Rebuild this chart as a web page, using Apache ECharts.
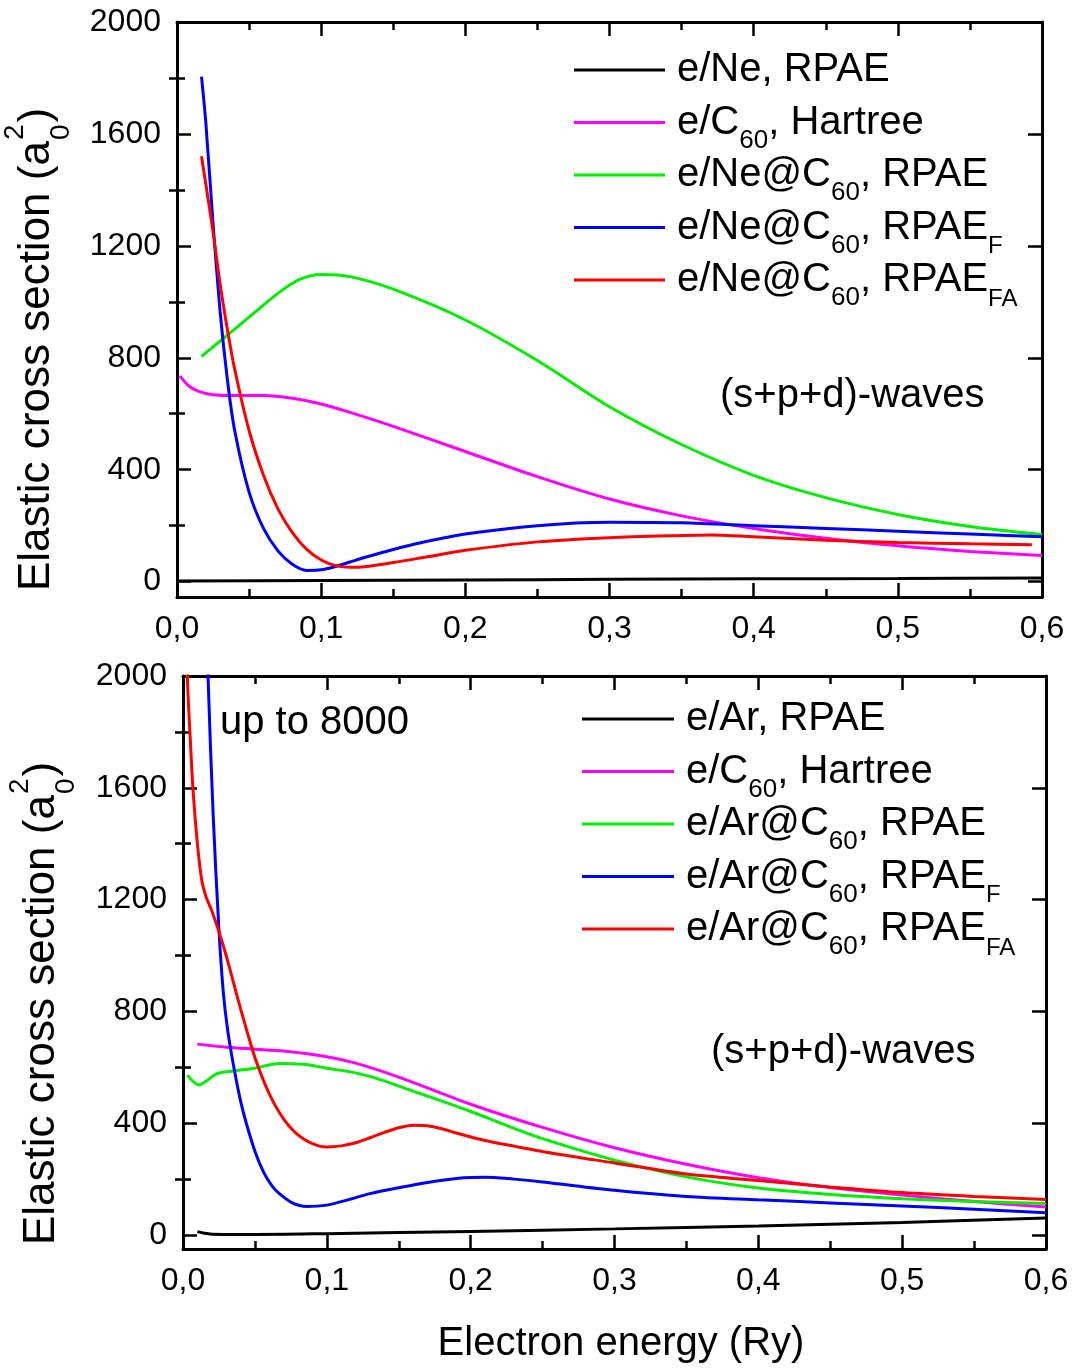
<!DOCTYPE html>
<html>
<head>
<meta charset="utf-8">
<script src="https://cdn.jsdelivr.net/npm/echarts@6/dist/echarts.min.js"></script>
<style>
html,body{margin:0;padding:0;background:#fff;}
#chart{width:1073px;height:1370px;}
</style>
</head>
<body>
<div id="chart"></div>
<script>
// ---------- DATA ----------
const yLabelValues = [0, 400, 800, 1200, 1600, 2000];
const yMinorValues = [200, 600, 1000, 1400, 1800];

// top panel: e/Ne and e/Ne@C60
const neRPAE = [[0,2],[0.1,4],[0.2,6],[0.3,8],[0.4,10],[0.5,11],[0.6,13]];
const c60HartreeTop = [[0.002,735],[0.008,700],[0.015,680],[0.025,668],[0.04,665],[0.06,665],[0.08,655],[0.1,635],[0.12,605],[0.15,555],[0.2,465],[0.25,375],[0.3,295],[0.35,235],[0.4,190],[0.45,155],[0.5,128],[0.55,108],[0.6,93]];
const neC60RPAE = [[0.017,805],[0.03,860],[0.05,945],[0.07,1030],[0.085,1080],[0.1,1098],[0.12,1090],[0.15,1045],[0.2,935],[0.25,790],[0.3,625],[0.35,490],[0.4,380],[0.45,300],[0.5,240],[0.55,197],[0.6,168]];
const neC60RPAEF = [[0.017,1805],[0.02,1640],[0.025,1280],[0.03,960],[0.035,720],[0.04,540],[0.05,320],[0.06,190],[0.07,110],[0.08,62],[0.09,40],[0.1,42],[0.11,54],[0.12,70],[0.13,86],[0.15,115],[0.17,140],[0.2,170],[0.25,200],[0.3,212],[0.35,210],[0.4,200],[0.45,190],[0.5,180],[0.55,170],[0.6,160]];
const neC60RPAEFA = [[0.017,1520],[0.02,1420],[0.025,1250],[0.03,1060],[0.035,900],[0.04,760],[0.05,540],[0.06,380],[0.07,260],[0.08,175],[0.09,115],[0.1,77],[0.11,57],[0.12,51],[0.13,53],[0.15,68],[0.175,90],[0.2,112],[0.25,142],[0.3,157],[0.35,165],[0.37,167],[0.4,160],[0.45,148],[0.5,140],[0.55,135],[0.593,132]];

// bottom panel: e/Ar and e/Ar@C60
const arRPAE = [[0.01,12],[0.015,6],[0.02,3],[0.05,2],[0.1,5],[0.2,13],[0.3,22],[0.4,32],[0.5,45],[0.6,61]];
const c60HartreeBot = [[0.01,683],[0.03,672],[0.05,665],[0.07,658],[0.1,638],[0.12,615],[0.15,565],[0.2,468],[0.25,385],[0.3,312],[0.35,253],[0.4,205],[0.45,170],[0.5,143],[0.55,120],[0.6,100]];
const arC60RPAE = [[0.003,572],[0.007,550],[0.011,537],[0.016,550],[0.024,578],[0.035,587],[0.05,597],[0.067,614],[0.085,610],[0.1,597],[0.12,580],[0.137,556],[0.16,515],[0.184,472],[0.2,442],[0.227,388],[0.25,345],[0.3,268],[0.35,208],[0.4,168],[0.45,145],[0.5,130],[0.55,120],[0.6,113]];
const arC60RPAEF = [[0.015,2500],[0.0174,2000],[0.021,1500],[0.025,1091],[0.028,870],[0.031,735],[0.035,610],[0.04,480],[0.044,400],[0.05,300],[0.056,225],[0.062,175],[0.067,148],[0.076,115],[0.086,102],[0.1,107],[0.114,125],[0.13,148],[0.149,168],[0.17,188],[0.195,205],[0.21,207],[0.23,200],[0.25,190],[0.3,160],[0.35,138],[0.4,126],[0.45,115],[0.5,104],[0.55,92],[0.6,80]];
const arC60RPAEFA = [[0.002,2300],[0.003,2000],[0.005,1780],[0.007,1590],[0.01,1400],[0.013,1270],[0.016,1210],[0.02,1160],[0.025,1085],[0.03,1000],[0.035,905],[0.04,810],[0.045,720],[0.05,635],[0.055,565],[0.06,505],[0.065,455],[0.07,415],[0.075,383],[0.08,358],[0.085,340],[0.09,327],[0.095,318],[0.1,315],[0.11,319],[0.12,330],[0.13,348],[0.14,367],[0.15,384],[0.16,393],[0.17,391],[0.18,380],[0.19,365],[0.21,338],[0.23,318],[0.26,290],[0.3,258],[0.35,218],[0.4,195],[0.45,172],[0.5,152],[0.55,138],[0.6,127]];

const topNames = ['Ne RPAE','C60 Hartree top','Ne@C60 RPAE','Ne@C60 RPAE_F','Ne@C60 RPAE_FA'];
const botNames = ['Ar RPAE','C60 Hartree bottom','Ar@C60 RPAE','Ar@C60 RPAE_F','Ar@C60 RPAE_FA'];
const legendLabels = {
  'Ne RPAE': '{m|e/Ne, RPAE}{s| }',
  'C60 Hartree top': '{m|e/C}{s|60}{m|, Hartree}',
  'Ne@C60 RPAE': '{m|e/Ne@C}{s|60}{m|, RPAE}',
  'Ne@C60 RPAE_F': '{m|e/Ne@C}{s|60}{m|, RPAE}{t|F}',
  'Ne@C60 RPAE_FA': '{m|e/Ne@C}{s|60}{m|, RPAE}{t|FA}',
  'Ar RPAE': '{m|e/Ar, RPAE}{s| }',
  'C60 Hartree bottom': '{m|e/C}{s|60}{m|, Hartree}',
  'Ar@C60 RPAE': '{m|e/Ar@C}{s|60}{m|, RPAE}',
  'Ar@C60 RPAE_F': '{m|e/Ar@C}{s|60}{m|, RPAE}{t|F}',
  'Ar@C60 RPAE_FA': '{m|e/Ar@C}{s|60}{m|, RPAE}{t|FA}'
};
const colors = ['#000000','#ff00ff','#00ee00','#0000ff','#ff0000'];

// ---------- CHART ----------
const FONT = '"Liberation Sans", Arial, Helvetica, sans-serif';
const chart = echarts.init(document.getElementById('chart'), null, {renderer:'canvas'});

const axisLine = {show:true, onZero:false, lineStyle:{color:'#000', width:3}};
const tickStyle = {color:'#000', width:2.5};
const xFmt = v => v.toFixed(1).replace('.', ',');
const yFmt = v => String(Math.round(v));

function xAxes(grid, showLabels, position) {
  return {
    gridIndex: grid, type:'value', min:0, max:0.6, interval:0.1, position,
    axisLine, splitLine:{show:false},
    axisTick:{show:true, inside:true, length:14, lineStyle:tickStyle},
    minorTick:{show:true, splitNumber:2, length:8, lineStyle:tickStyle},
    axisLabel:{show:showLabels, fontFamily:FONT, fontSize:32, color:'#000', margin:16, formatter:xFmt}
  };
}
function yAxes(grid, min) {
  const base = {gridIndex:grid, type:'value', min, max:2000, splitLine:{show:false}};
  return [
    Object.assign({}, base, {position:'left', axisLine,
      axisTick:{show:true, inside:true, length:14, lineStyle:tickStyle, customValues:yLabelValues},
      axisLabel:{show:true, customValues:yLabelValues, fontFamily:FONT, fontSize:32, color:'#000', margin:16, formatter:yFmt}}),
    Object.assign({}, base, {position:'left', axisLine:{show:false},
      axisTick:{show:true, inside:true, length:8, lineStyle:tickStyle, customValues:yMinorValues},
      axisLabel:{show:false}}),
    Object.assign({}, base, {position:'right', axisLine,
      axisTick:{show:true, inside:true, length:14, lineStyle:tickStyle, customValues:yLabelValues},
      axisLabel:{show:false}}),
    Object.assign({}, base, {position:'right', axisLine:{show:false},
      axisTick:{show:true, inside:true, length:8, lineStyle:tickStyle, customValues:yMinorValues},
      axisLabel:{show:false}})
  ];
}

const topData = [neRPAE, c60HartreeTop, neC60RPAE, neC60RPAEF, neC60RPAEFA];
const botData = [arRPAE, c60HartreeBot, arC60RPAE, arC60RPAEF, arC60RPAEFA];
const series = [];
topData.forEach((d,i) => series.push({
  name: topNames[i], type:'line', xAxisIndex:0, yAxisIndex:0, data:d,
  symbol:'none', smooth:0.3, clip:true, color:colors[i],
  lineStyle:{width:3, color:colors[i]}
}));
botData.forEach((d,i) => series.push({
  name: botNames[i], type:'line', xAxisIndex:2, yAxisIndex:4, data:d,
  symbol:'none', smooth:0.3, clip:true, color:colors[i],
  lineStyle:{width:3, color:colors[i]}
}));

const rich = {
  m:{fontFamily:FONT, fontSize:40, color:'#000', lineHeight:44},
  s:{fontFamily:FONT, fontSize:26, color:'#000', lineHeight:44, padding:[36,0,0,0]},
  t:{fontFamily:FONT, fontSize:24, color:'#000', lineHeight:44, padding:[38,0,0,0]}
};
function legendOf(names, left, top, gap, w) {
  return {
    data: names, orient:'vertical', left, top, itemWidth:w, itemHeight:3, itemGap:gap,
    icon:'rect', selectedMode:false, padding:0,
    formatter: n => legendLabels[n],
    textStyle:{rich, padding:[0,0,0,7], color:'#000'}
  };
}

// measure helper for the axis title
const mctx = document.createElement('canvas').getContext('2d');
function tw(text, size) { mctx.font = size + 'px ' + FONT; return mctx.measureText(text).width; }

function yTitle(x, y) {
  const main = 'Elastic cross section (a';
  const F = 44, S = 28;
  const w = tw(main, F);
  const ws = tw('0', S);
  const mk = (t, lx, ly, size) => ({type:'text', x:lx, y:ly,
    style:{text:t, fontFamily:FONT, fontSize:size, fill:'#000', textAlign:'left', align:'left', textVerticalAlign:'middle', verticalAlign:'middle'}});
  return {type:'group', x, y, rotation:Math.PI/2, children:[
    mk(main, 0, -0.35*F, F),
    mk('0', w + 1, 19 - 0.35*S, S),
    mk('2', w + 1, -27 - 0.35*S, S),
    mk(')', w + ws + 3, -0.35*F, F)
  ]};
}
function label(t, x, y, size, align) {
  return {type:'text', x, y, style:{text:t, fontFamily:FONT, fontSize:size, fill:'#000',
    textAlign:align||'left', align:align||'left', textVerticalAlign:'middle', verticalAlign:'middle'}};
}

chart.setOption({
  animation:false,
  backgroundColor:'#fff',
  grid:[{left:177, right:31, top:22, bottom:773}, {left:183, right:27, top:676, bottom:121}],
  xAxis:[xAxes(0,true,'bottom'), xAxes(0,false,'top'), xAxes(1,true,'bottom'), xAxes(1,false,'top')],
  yAxis:[].concat(yAxes(0,-55), yAxes(1,-50)),
  legend:[legendOf(topNames, 574, 39, -9.5, 91), legendOf(botNames, 582, 688, -9.5, 92)],
  series,
  graphic:[
    yTitle(52, 591),
    yTitle(57, 1245),
    label('(s+p+d)-waves', 720, 396, 40),
    label('(s+p+d)-waves', 711, 1052, 40),
    label('up to 8000', 220, 723, 40),
    label('Electron energy (Ry)', 621, 1344, 40, 'center')
  ]
});
</script>
</body>
</html>
